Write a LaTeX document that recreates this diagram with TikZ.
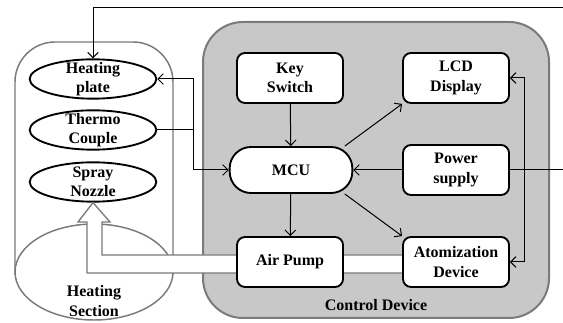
\documentclass[tikz,border=0pt]{standalone}
\usepackage{fontspec}
\setmainfont{Liberation Serif}
\usepackage{xcolor}
\usetikzlibrary{arrows,positioning,shapes.geometric}
\usetikzlibrary{arrows.meta}
\definecolor{colorDev}{HTML}{C8C8C8}
\definecolor{colorWall}{HTML}{7A7A7A}

\begin{document}
\begin{tikzpicture}[x=0.75pt,y=-0.75pt,>={Straight Barb[length=4pt,width=8pt]},font=\fontsize{12}{14.5}\selectfont\bfseries,every node/.append style={align=center},blk/.style={rectangle,draw,line width=1.4pt,rounded corners=6pt,fill=white,minimum width=79.5pt,minimum height=37.5pt},elp/.style={ellipse,draw,line width=1.4pt,fill=white,minimum width=95pt,minimum height=29.5pt,inner xsep=0pt,inner ysep=-3pt},wall/.style={draw=colorWall,line width=1.1pt},link/.style={line width=0.75pt}]
    \useasboundingbox (0,0) rectangle (563,323);
    % control device background
    \node [rectangle, draw=colorWall, line width=1.5pt, fill=colorDev, rounded corners=30pt, minimum width=259.5pt, minimum height=222pt] (ctrl) at (376,170) {};
    \node (ctrltxt) at (376,305) {Control Device};
    % heating section (cylinder)
    \draw [wall, rounded corners=30pt] (15,275) -- (15,42) -- (173,42) -- (173,275);
    \draw [wall] (94,272) ellipse [x radius=79, y radius=48];
    \node (heatsec) at (94,301) {Heating\\Section};
    % parts inside the heating section
    \node [elp] (plate) at (93,79) {Heating\\plate};
    \node [elp] (thermo) at (93,130) {Thermo\\Couple};
    \node [elp] (nozzle) at (93,182) {Spray\\Nozzle};
    % air pipe
    \draw [draw=colorWall, line width=1pt, fill=white] (403,255) -- (102,255) -- (102,222) -- (110,222) -- (nozzle.south) -- (78,222) -- (87,222) -- (87,273) -- (403,273) -- cycle;
    % blocks of the control device
    \node [blk] (key) at (290,78) {Key\\Switch};
    \node [blk] (lcd) at (456,78) {LCD\\Display};
    \node [blk, rounded corners=16pt, minimum width=92pt, minimum height=34.5pt] (mcu) at (291,170) {MCU};
    \node [blk] (power) at (456,170) {Power\\supply};
    \node [blk] (pump) at (290,262) {Air Pump};
    \node [blk] (atom) at (456,262) {Atomization\\Device};
    % outside supply
    \coordinate (hin) at (563,8);
    \coordinate (pin) at (563,170);
    \draw [link, ->] (hin) -| (plate.north);
    \draw [link] (power.east) -- (pin);
    \draw [link, <->] (lcd.east) -- ++(15,0) |- (atom.east);
    % thermocouple feedback
    \draw [link] (thermo.east) -- ++(36,0) coordinate (tj);
    \draw [link, ->] (tj) |- (plate.east);
    \draw [link, ->] (tj) |- (mcu.west);
    % mcu links
    \path [link, ->] (key) edge (mcu);
    \path [link, ->] (mcu.24) edge (lcd.south west);
    \path [link, ->] (power) edge (mcu);
    \path [link, ->] (mcu) edge (pump);
    \path [link, ->] (mcu.-24) edge (atom.north west);
\end{tikzpicture}
\end{document}
